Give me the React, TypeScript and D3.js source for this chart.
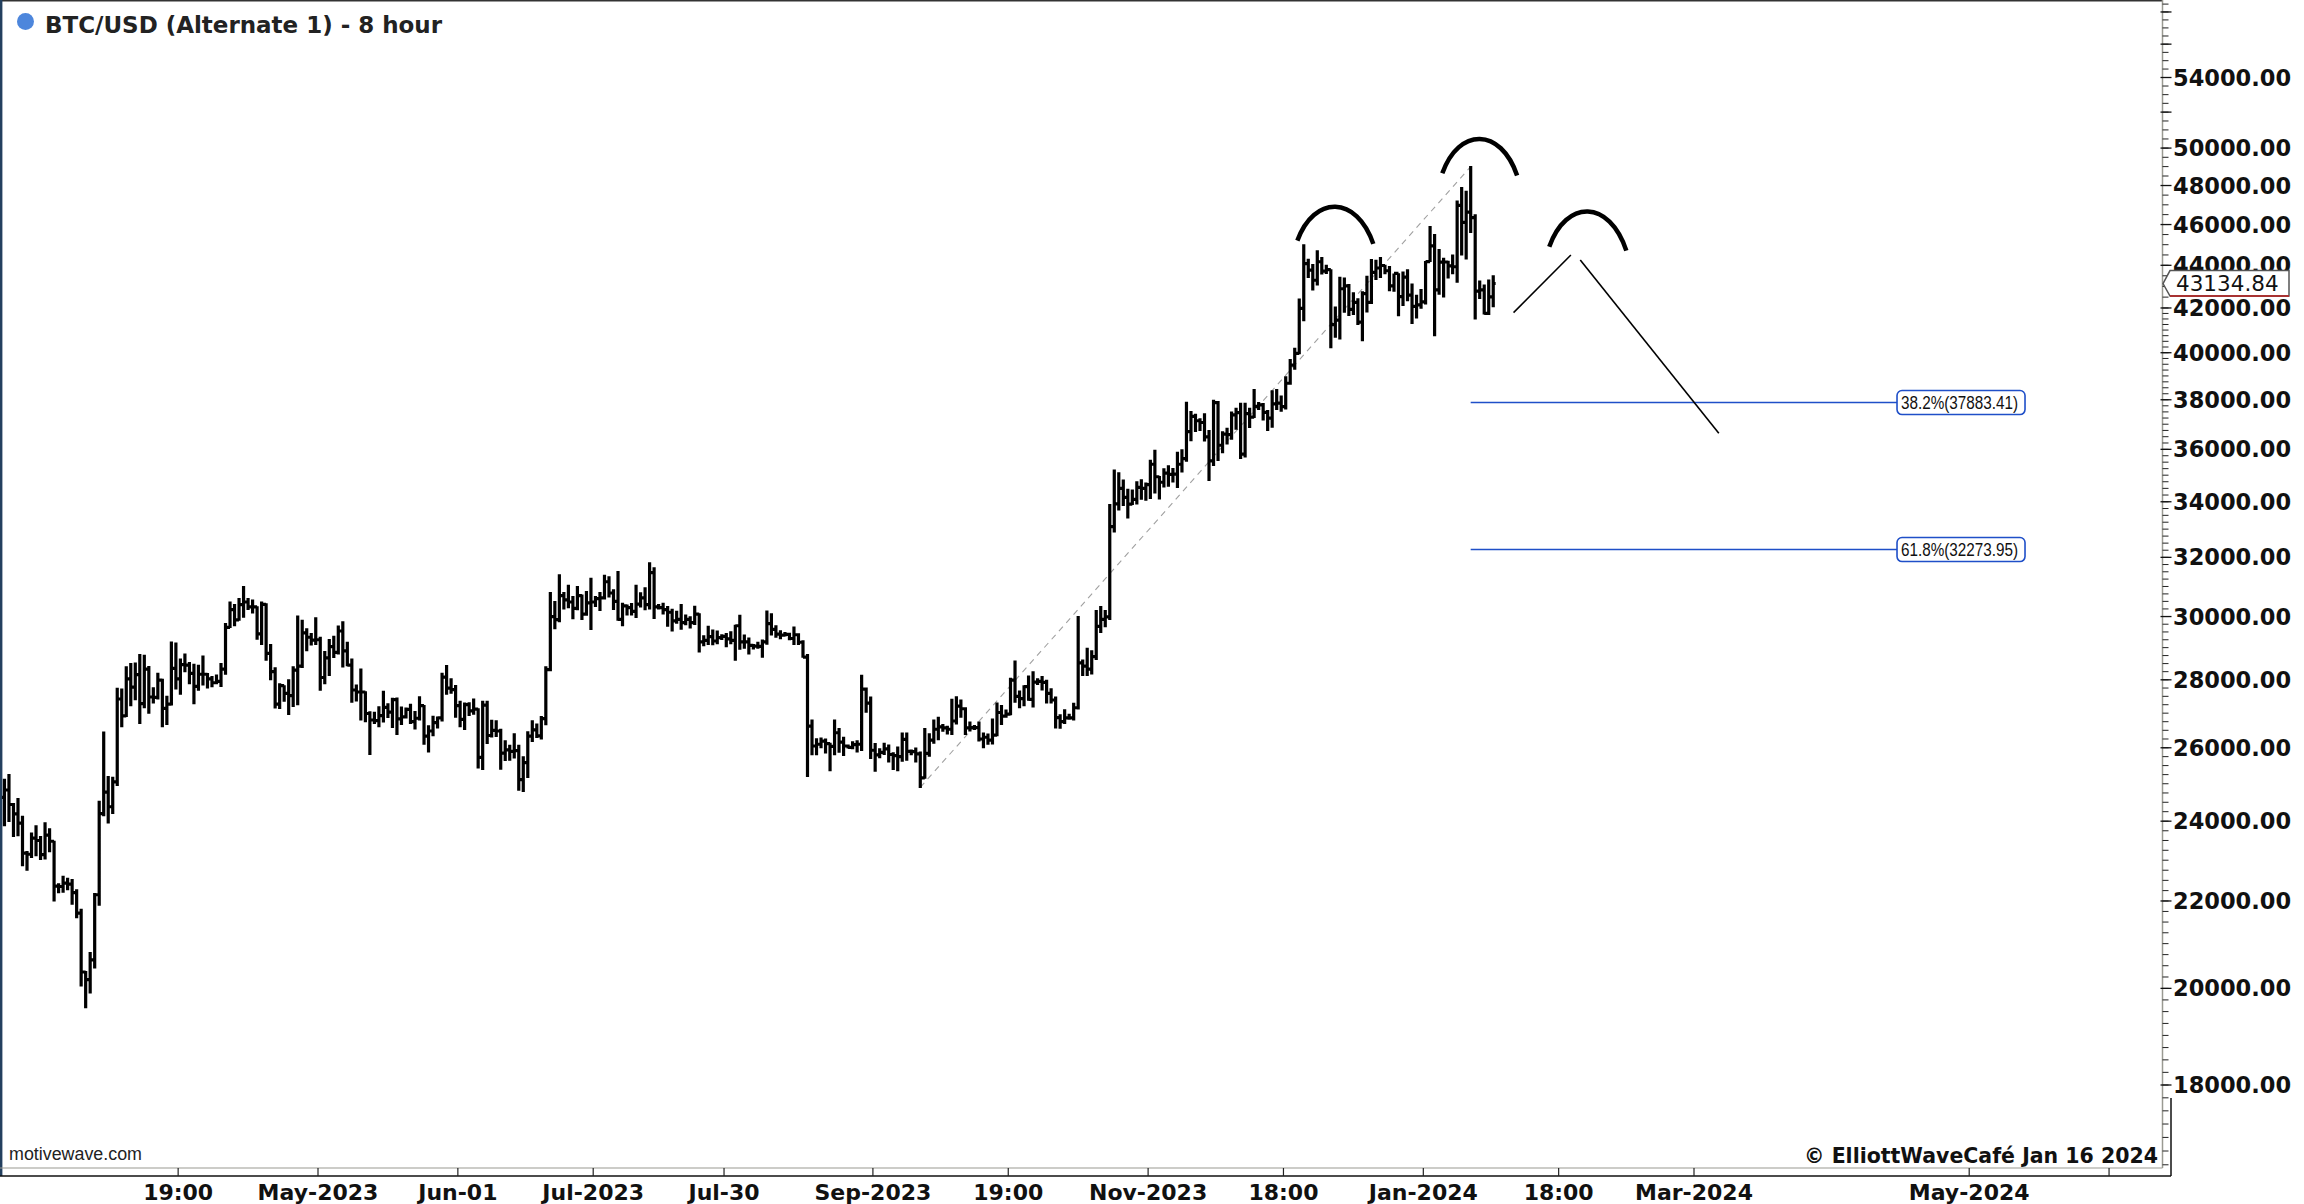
import React, { useMemo } from 'react';
import * as d3 from 'd3';

// ---------- DATA (daily bars, [high, low, close]) ----------
const firstDay = '2023-02-20';
const firstOpen = 24630;

const feb2023 = [
  [25120, 23880, 24830], [25250, 23990, 24440], [24470, 23600, 24190], [24600, 23620, 23950],
  [24130, 22860, 23180], [23220, 22750, 23150], [23690, 23070, 23560], [23880, 23110, 23500],
  [23600, 23020, 23140],
];
const mar2023 = [
  [23960, 23030, 23640], [23800, 23210, 23480], [23480, 22000, 22360], [22420, 22200, 22350],
  [22600, 22210, 22430], [22550, 22270, 22410], [22520, 21920, 22200], [22270, 21600, 21710],
  [21800, 20050, 20360], [20370, 19580, 20190], [20800, 19900, 20630], [22180, 20450, 22150],
  [24530, 21900, 24200], [26450, 24140, 24770], [25200, 23950, 24380], [25180, 24200, 25050],
  [27740, 24950, 27420], [27720, 26600, 26920], [28400, 26900, 28030], [28500, 27220, 27780],
  [28520, 27400, 28160], [28780, 26700, 27280], [28760, 27160, 28330], [28410, 27000, 27480],
  [27760, 27300, 27470], [28200, 27420, 27990], [28020, 26600, 27140], [27500, 26670, 27270],
  [29180, 27240, 28350], [29150, 27720, 28030], [28640, 27560, 28470],
];
const apr2023 = [
  [28800, 28250, 28450], [28530, 27880, 28200], [28480, 27280, 27800], [28450, 27680, 28170],
  [28740, 27840, 28170], [28190, 27750, 28030], [28100, 27790, 27910], [28150, 27880, 27950],
  [28500, 27800, 28330], [29770, 28170, 29650], [30480, 29640, 30230], [30400, 29700, 29890],
  [30600, 29880, 30390], [31000, 29980, 30480], [30600, 30230, 30320], [30550, 30120, 30320],
  [30320, 29270, 29440], [30480, 29100, 30400], [30420, 28600, 28820], [29100, 28000, 28250],
  [28370, 27150, 27270], [27880, 27140, 27820], [27820, 27350, 27590], [28000, 26960, 27520],
  [28400, 27200, 28300], [30020, 27250, 28420], [29880, 28380, 29470], [29600, 28900, 29330],
  [29450, 29080, 29240], [29960, 29100, 29250],
];
const may2023 = [
  [29330, 27680, 28070], [28880, 27880, 28680], [29260, 28130, 29030], [29360, 28690, 28850],
  [29690, 28800, 29530], [29830, 28390, 28900], [29170, 28430, 28450], [28640, 27320, 27690],
  [27840, 27360, 27630], [28330, 26800, 27630], [27640, 26750, 26990], [27040, 25810, 26800],
  [27030, 26700, 26780], [27190, 26600, 26930], [27650, 26740, 27170], [27280, 26870, 27030],
  [27440, 26580, 27400], [27450, 26380, 26830], [27180, 26670, 26890], [27150, 26860, 27110],
  [27260, 26700, 26750], [27050, 26540, 26850], [27490, 26800, 27220], [27230, 26100, 26330],
  [26630, 25880, 26480], [26910, 26340, 26720], [26890, 26570, 26860], [28200, 26770, 28080],
  [28440, 27560, 27750], [28030, 27590, 27700], [27830, 26880, 27220],
];
const jun2023 = [
  [27350, 26600, 26820], [27300, 26520, 27250], [27310, 26930, 27070], [27420, 26970, 27120],
  [27130, 25430, 25730], [27350, 25390, 27240], [27350, 26120, 26350], [26790, 26310, 26500],
  [26780, 26320, 26480], [26530, 25400, 25850], [26200, 25640, 25940], [26070, 25650, 25900],
  [26400, 25710, 25920], [26070, 24820, 25110], [25750, 24790, 25580], [26460, 25170, 26330],
  [26780, 26180, 26510], [26680, 26290, 26340], [26900, 26250, 26840], [28400, 26660, 28310],
  [30800, 28280, 30000], [30500, 29600, 29900], [31400, 29830, 30690], [30800, 30250, 30550],
  [31040, 30290, 30480], [30660, 29930, 30270], [31000, 30220, 30690], [30710, 29900, 30080],
  [30830, 30040, 30450], [31280, 29580, 30480],
];
const jul2023 = [
  [30660, 30330, 30590], [30800, 30200, 30620], [31380, 30580, 31160], [31330, 30650, 30780],
  [30890, 30230, 30500], [31510, 29880, 29910], [30440, 29700, 30350], [30380, 30050, 30290],
  [30430, 30050, 30170], [31040, 29970, 30410], [30790, 30310, 30620], [30960, 30220, 30390],
  [31810, 30250, 31470], [31640, 29940, 30320], [30400, 30250, 30290], [30440, 30080, 30230],
  [30330, 29680, 30140], [30240, 29530, 29860], [30170, 29780, 29910], [30400, 29590, 29800],
  [30050, 29730, 29910], [29990, 29630, 29800], [30340, 29740, 30080], [30090, 28860, 29180],
  [29380, 29060, 29230], [29680, 29100, 29350], [29560, 29090, 29210], [29530, 29120, 29320],
  [29410, 29260, 29360], [29450, 29030, 29280], [29510, 29120, 29230],
];
const aug2023 = [
  [29720, 28600, 29700], [30040, 28950, 29180], [29400, 28980, 29180], [29310, 28800, 29070],
  [29100, 28960, 29050], [29170, 28980, 29040], [29240, 28700, 29180], [30180, 29110, 29770],
  [30090, 29400, 29580], [29700, 29330, 29430], [29540, 29280, 29400], [29480, 29370, 29420],
  [29460, 29250, 29290], [29660, 29100, 29410], [29440, 29100, 29170], [29220, 28700, 28700],
  [28780, 25200, 26620], [26800, 25800, 26050], [26260, 25800, 26100], [26280, 26000, 26190],
  [26250, 25850, 26120], [26130, 25360, 26040], [26800, 25800, 26430], [26550, 25870, 26160],
  [26300, 25780, 26050], [26080, 25990, 26010], [26170, 25970, 26090], [26200, 25880, 26100],
  [28140, 25920, 27720], [27750, 27030, 27300], [27480, 25700, 25930],
];
const sep2023 = [
  [26120, 25340, 25800], [25970, 25720, 25870], [26130, 25810, 25970], [26080, 25600, 25810],
  [25860, 25390, 25780], [26020, 25360, 25750], [26420, 25620, 26240], [26420, 25650, 25900],
  [25940, 25800, 25890], [25990, 25600, 25830], [25880, 24900, 25160], [26550, 25150, 25840],
  [26400, 25760, 26220], [26800, 26130, 26530], [26880, 26230, 26600], [26670, 26470, 26570],
  [26620, 26390, 26530], [27410, 26380, 26770], [27490, 26680, 27210], [27390, 26880, 27130],
  [27160, 26380, 26570], [26740, 26480, 26580], [26640, 26520, 26580], [26740, 26190, 26250],
  [26420, 26000, 26300], [26390, 26100, 26220], [26830, 26110, 26360], [27300, 26340, 27020],
  [27230, 26670, 26910], [27090, 26880, 26970],
];
const oct2023 = [
  [28050, 26950, 27990], [28580, 27320, 27500], [27660, 27160, 27430], [27820, 27220, 27790],
  [28120, 27380, 27410], [28250, 27180, 27930], [28030, 27860, 27950], [28100, 27690, 27920],
  [27990, 27300, 27590], [27730, 27300, 27390], [27480, 26570, 26870], [26950, 26560, 26750],
  [27100, 26700, 26860], [26970, 26820, 26860], [27290, 26800, 27160], [30000, 27120, 28520],
  [28610, 28130, 28420], [28980, 28130, 28330], [28900, 28180, 28720], [30200, 28630, 29680],
  [30330, 29480, 29910], [30200, 29670, 29990], [33900, 29900, 33090], [35200, 32900, 33920],
  [35090, 33700, 34500], [34820, 33860, 34160], [34470, 33400, 33910], [34440, 33900, 34090],
  [34750, 33920, 34540], [34830, 34090, 34500], [34700, 34060, 34640],
];
const nov2023 = [
  [35570, 34120, 35420], [35960, 34330, 34940], [34950, 34100, 34730], [35250, 34550, 35080],
  [35360, 34580, 35030], [35260, 34740, 35040], [35890, 34530, 35420], [35980, 35120, 35640],
  [37900, 35540, 36700], [37520, 36340, 37320], [37400, 36710, 37140], [37220, 36750, 37070],
  [37420, 36330, 36490], [36750, 34800, 35550], [37980, 35370, 37880], [37930, 35560, 36160],
  [36700, 35870, 36600], [36840, 36210, 36580], [37500, 36400, 37380], [37650, 36800, 37470],
  [37860, 35640, 35810], [37860, 35700, 37430], [37650, 36870, 37290], [38430, 37270, 37730],
  [37890, 37600, 37790], [37840, 37170, 37480], [37560, 36750, 37250], [38380, 36880, 37830],
  [38430, 37600, 37860], [38160, 37530, 37720],
];
const dec2023 = [
  [38960, 37620, 38690], [39700, 38650, 39460], [40190, 39280, 39970], [42410, 39960, 41980],
  [45000, 41420, 44080], [44290, 43420, 43770], [44040, 42830, 43290], [44700, 43070, 44170],
  [44380, 43580, 43720], [44000, 43610, 43790], [43790, 40220, 41240], [42050, 40680, 41450],
  [43430, 40600, 42890], [43400, 41800, 43020], [43090, 41660, 41940], [42700, 41700, 42260],
  [42430, 41250, 41360], [42750, 40530, 42660], [43480, 41820, 42260], [44280, 42200, 43660],
  [44240, 43330, 43870], [44380, 43420, 43990], [44000, 43600, 43740], [43940, 42800, 43020],
  [43580, 42770, 43610], [43600, 41640, 42520], [43680, 42110, 43440], [43790, 42330, 42590],
  [43110, 41300, 42070], [42590, 41540, 42140], [42860, 41990, 42280],
];
const jan2024 = [
  [44180, 42180, 44180], [45900, 44180, 44940], [45500, 40750, 42840], [44770, 42630, 44150],
  [44340, 42500, 44160], [44200, 43400, 43970], [44500, 43600, 43930], [47200, 43200, 46970],
  [47900, 44500, 46110], [47700, 44300, 46630], [49000, 45600, 46350], [46500, 41500, 42780],
  [43250, 42440, 42840], [43070, 41720, 41750], [43300, 41700, 42510], [43500, 42060, 43134.84],
];

const lastPrice = 43134.84;

// Axis ticks
const yLabelValues = [54000, 50000, 48000, 46000, 44000, 42000, 40000, 38000, 36000, 34000, 32000,
  30000, 28000, 26000, 24000, 22000, 20000, 18000];
const xTickDates = ['2023-03-31T00:00:00Z', '2023-05-01T00:00:00Z', '2023-06-01T00:00:00Z', '2023-07-01T00:00:00Z',
  '2023-07-30T00:00:00Z', '2023-09-01T00:00:00Z', '2023-10-01T00:00:00Z', '2023-11-01T00:00:00Z',
  '2023-12-01T00:00:00Z', '2024-01-01T00:00:00Z', '2024-01-31T00:00:00Z', '2024-03-01T00:00:00Z',
  '2024-05-01T00:00:00Z', '2024-06-01T00:00:00Z'];
const xTickLabels = ['19:00', 'May-2023', 'Jun-01', 'Jul-2023', 'Jul-30', 'Sep-2023',
  '19:00', 'Nov-2023', '18:00', 'Jan-2024', '18:00', 'Mar-2024', 'May-2024', ''];

// Fibonacci retracement
const fibLabels = ['38.2%', '61.8%'];
const fibValues = [37883.41, 32273.95];
const fibStart = '2024-01-11T12:00:00Z';
const fibEnd = '2024-04-15T00:00:00Z';

// dashed swing line (low -> high)
const swingDates = ['2023-09-11T12:00:00Z', '2024-01-11T12:00:00Z'];
const swingPrices = [24900, 49000];

// arcs: [left, top, right] anchors as date/price
const arcDates = [
  ['2023-12-04T02:00:00Z', '2023-12-12T10:00:00Z', '2023-12-20T22:00:00Z'],
  ['2024-01-05T05:00:00Z', '2024-01-12T19:00:00Z', '2024-01-21T19:00:00Z'],
  ['2024-01-28T22:00:00Z', '2024-02-06T02:00:00Z', '2024-02-15T00:00:00Z'],
];
const arcPrices = [
  [45200, 46900, 45040],
  [48640, 50500, 48530],
  [44900, 46660, 44710],
];

// projected path lines
const projDates = [
  ['2024-01-21T00:00:00Z', '2024-02-02T17:00:00Z'],
  ['2024-02-04T19:00:00Z', '2024-03-06T12:00:00Z'],
];
const projPrices = [
  [41790, 44500],
  [44260, 36640],
];

const W = 2304;
const H = 1204;
const plotRight = 2162.5;
const plotBottom = 1168;
const axisFont = '"DejaVu Sans", Verdana, sans-serif';

export default function App() {
  const x = d3.scaleUtc()
    .domain([new Date('2023-05-01T00:00:00Z'), new Date('2024-03-01T00:00:00Z')])
    .range([318, 1694]);
  const y = d3.scaleLog().domain([18000, 54000]).range([1085, 77.5]);

  const barPath = useMemo(() => {
    const all = [feb2023, mar2023, apr2023, may2023, jun2023, jul2023, aug2023, sep2023,
      oct2023, nov2023, dec2023, jan2024].flat();
    const start = new Date(firstDay + 'T12:00:00Z').getTime();
    const p = d3.path();
    let prev = firstOpen;
    all.forEach((b, i) => {
      const [hi, lo, cl] = b;
      const px = x(new Date(start + i * 86400000));
      const yh = y(hi), yl = y(lo);
      p.moveTo(px, yh - 0.5);
      p.lineTo(px, yl + 0.5);
      p.moveTo(px - 2.4, y(prev));
      p.lineTo(px, y(prev));
      p.moveTo(px, y(cl));
      p.lineTo(px + 2.4, y(cl));
      prev = cl;
    });
    return p.toString();
  }, []);

  // y ticks
  const minorVals = [...d3.range(16500, 42000, 250), ...d3.range(42000, 59000, 500)];
  const majorVals = d3.range(18000, 58001, 2000);

  const arcPaths = arcDates.map((ds, i) => {
    const pts = ds.map((d, j) => [x(new Date(d)), y(arcPrices[i][j])]);
    const [L, T, R] = pts;
    const base = (L[1] + R[1]) / 2;
    const h = base - T[1];
    const w = R[0] - L[0];
    const cy = T[1] - h / 3;
    return `M${L[0]},${L[1]} C${L[0] + 0.22 * w},${cy} ${R[0] - 0.22 * w},${cy} ${R[0]},${R[1]}`;
  });

  const lpY = y(lastPrice);

  return (
    <svg width={W} height={H} style={{ position: 'absolute', left: 0, top: 0, display: 'block', background: '#fff' }}>
      <rect x={0} y={0} width={W} height={H} fill="#fff" />

      {/* frame */}
      <line x1={0} y1={0.75} x2={plotRight} y2={0.75} stroke="#333" strokeWidth={1.5} />
      <line x1={1.2} y1={0} x2={1.2} y2={plotBottom + 8} stroke="#23405f" strokeWidth={2.4} />
      <line x1={plotRight} y1={0} x2={plotRight} y2={plotBottom} stroke="#9a9a92" strokeWidth={1.5} />
      <line x1={0} y1={plotBottom} x2={plotRight} y2={plotBottom} stroke="#9a9a92" strokeWidth={1.2} />
      <line x1={0} y1={plotBottom + 8} x2={2171} y2={plotBottom + 8} stroke="#111" strokeWidth={1.5} />
      <line x1={2171} y1={plotBottom - 70} x2={2171} y2={plotBottom + 8} stroke="#111" strokeWidth={1.5} />

      {/* title */}
      <circle cx={25.5} cy={21.5} r={8.5} fill="#4d86dc" />
      <text x={45} y={32.5} fontFamily={axisFont} fontWeight="bold" fontSize={22.5} fill="#222"
        textLength={397} lengthAdjust="spacingAndGlyphs">BTC/USD (Alternate 1) - 8 hour</text>

      {/* dashed swing line */}
      <line x1={x(new Date(swingDates[0]))} y1={y(swingPrices[0])} x2={x(new Date(swingDates[1]))} y2={y(swingPrices[1])}
        stroke="#a0a0a0" strokeWidth={1.1} strokeDasharray="6 5" />

      {/* price bars */}
      <path d={barPath} stroke="#000" strokeWidth={3.2} fill="none" strokeLinecap="butt" />

      {/* fib levels */}
      {fibValues.map((v, i) => {
        const x0 = x(new Date(fibStart));
        const x1 = x(new Date(fibEnd));
        const yy = y(v);
        return (
          <g key={i}>
            <line x1={x0} y1={yy} x2={x1} y2={yy} stroke="#1f4fc8" strokeWidth={1.5} />
            <rect x={x1} y={yy - 12} width={128} height={24} rx={5} ry={5} fill="#fff" stroke="#1f4fc8" strokeWidth={1.6} />
            <text x={x1 + 4} y={yy + 6} fontFamily='"Liberation Sans", Arial, sans-serif' fontSize={17.5} fill="#111"
              textLength={117} lengthAdjust="spacingAndGlyphs">{`${fibLabels[i]}(${v.toFixed(2)})`}</text>
          </g>
        );
      })}

      {/* arcs */}
      {arcPaths.map((d, i) => (
        <path key={i} d={d} stroke="#000" strokeWidth={4.5} fill="none" />
      ))}

      {/* projected lines */}
      {projDates.map((ds, i) => (
        <line key={i} x1={x(new Date(ds[0]))} y1={y(projPrices[i][0])} x2={x(new Date(ds[1]))} y2={y(projPrices[i][1])}
          stroke="#000" strokeWidth={1.6} />
      ))}

      {/* y axis ticks */}
      {minorVals.filter(v => y(v) > 2 && y(v) < plotBottom + 6).map(v => (
        <line key={'m' + v} x1={plotRight} x2={plotRight + 6} y1={y(v)} y2={y(v)} stroke="#222" strokeWidth={1} />
      ))}
      {majorVals.filter(v => y(v) > 2 && y(v) < plotBottom).map(v => (
        <line key={'M' + v} x1={plotRight - 2} x2={plotRight + 9} y1={y(v)} y2={y(v)} stroke="#111" strokeWidth={1.3} />
      ))}
      {yLabelValues.map(v => (
        <text key={'l' + v} x={2173} y={y(v)} dy="0.36em" fontFamily={axisFont} fontWeight="bold" fontSize={22.5}
          fill="#111">{v.toFixed(2)}</text>
      ))}

      {/* last price marker */}
      <path d={`M${plotRight + 0.5},${lpY} L${2170},${lpY - 13} L${2289},${lpY - 13} L${2289},${lpY + 12.5} L${2170},${lpY + 12.5} Z`}
        fill="#fff" stroke="#555" strokeWidth={1.5} />
      <line x1={2170} x2={2289} y1={lpY + 12.5} y2={lpY + 12.5} stroke="#a83232" strokeWidth={1.8} />
      <text x={2176} y={lpY} dy="0.36em" fontFamily={axisFont} fontSize={21.5} fill="#111">{lastPrice.toFixed(2)}</text>

      {/* x axis */}
      {xTickDates.map((d, i) => {
        const px = x(new Date(d));
        return (
          <g key={'x' + i}>
            <line x1={px} x2={px} y1={plotBottom} y2={plotBottom + 8} stroke="#222" strokeWidth={1.2} />
            {xTickLabels[i] && (
              <text x={px} y={1200} textAnchor="middle" fontFamily={axisFont} fontWeight="bold" fontSize={22}
                fill="#111">{xTickLabels[i]}</text>
            )}
          </g>
        );
      })}

      {/* footer texts */}
      <text x={9} y={1160} fontFamily='"Liberation Sans", Arial, sans-serif' fontSize={17.5} fill="#222"
        textLength={133} lengthAdjust="spacingAndGlyphs">motivewave.com</text>
      <text x={2158} y={1163} textAnchor="end" fontFamily={axisFont} fontWeight="bold" fontSize={21} fill="#111"
        textLength={354} lengthAdjust="spacingAndGlyphs">© ElliottWaveCafé Jan 16 2024</text>
    </svg>
  );
}
